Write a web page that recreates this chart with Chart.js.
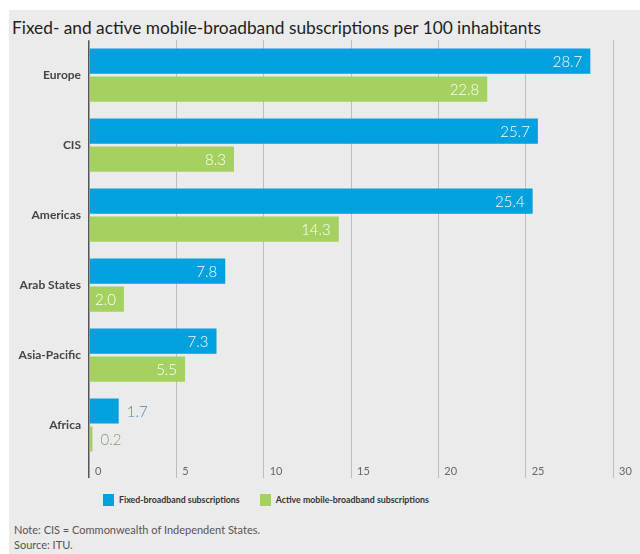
<!DOCTYPE html>
<html>
<head>
	<title>Broadband subscriptions</title>
	<style>
		body { margin: 0; background: #fff; width: 640px; height: 554px; overflow: hidden; }
		.panel { position: absolute; left: 9px; top: 10px; width: 631px; height: 544px; background: #ebebeb; font-family: Lato, sans-serif; }
		h1 { position: absolute; left: 3px; top: 7px; margin: 0; font-size: 17.3px; font-weight: normal; color: #1e1e1e; white-space: nowrap; }
		#chartBox { position: absolute; left: 0; top: 15px; width: 631px; height: 463px; }
		#legend { position: absolute; left: 94px; top: 484px; font-size: 8.8px; font-weight: bold; color: #333; white-space: nowrap; }
		#legend span.item { display: inline-block; margin-right: 20px; }
		#legend i { display: inline-block; width: 11px; height: 12px; vertical-align: -3px; margin-right: 5px; }
		.notes { position: absolute; left: 5px; top: 512px; font-size: 11px; color: #555; line-height: 15px; }
	</style>
	<script src="https://cdn.jsdelivr.net/npm/chart.js"></script>
</head>
<body>
<div class="panel">
	<h1>Fixed- and active mobile-broadband subscriptions per 100 inhabitants</h1>
	<div id="chartBox"><canvas id="bbChart" width="631" height="463"></canvas></div>
	<div id="legend"></div>
	<div class="notes">Note: CIS = Commonwealth of Independent States.<br>Source: ITU.</div>
</div>

<script>
	const regions = ['Europe', 'CIS', 'Americas', 'Arab States', 'Asia-Pacific', 'Africa'];
	const fixedBroadband = [28.7, 25.7, 25.4, 7.8, 7.3, 1.7];
	const mobileBroadband = [22.8, 8.3, 14.3, 2.0, 5.5, 0.2];
	const xTicks = [0, 5, 10, 15, 20, 25, 30];

	const BLUE = '#00a1de';
	const GREEN = '#a5d160';

	// value labels: inside the bar end when it fits, otherwise just past it
	const valueLabels = {
		id: 'valueLabels',
		afterDatasetsDraw(chart) {
			const ctx = chart.ctx;
			const outsideColors = ['#5581b8', '#7f9d72'];
			ctx.save();
			ctx.font = '300 15px Lato, sans-serif';
			ctx.textBaseline = 'middle';
			chart.data.datasets.forEach((ds, di) => {
				chart.getDatasetMeta(di).data.forEach((bar, i) => {
					const v = ds.data[i];
					const txt = v.toFixed(1);
					if (v >= 2) {
						ctx.fillStyle = '#fff';
						ctx.textAlign = 'right';
						ctx.fillText(txt, bar.x - 8, bar.y + 1);
					} else {
						ctx.fillStyle = outsideColors[di];
						ctx.textAlign = 'left';
						ctx.fillText(txt, bar.x + 8, bar.y + 1);
					}
				});
			});
			ctx.restore();
		}
	};

	const chart = new Chart(document.getElementById('bbChart'), {
		type: 'bar',
		data: {
			labels: regions,
			datasets: [
				{ label: 'Fixed-broadband subscriptions', data: fixedBroadband, backgroundColor: BLUE },
				{ label: 'Active mobile-broadband subscriptions', data: mobileBroadband, backgroundColor: GREEN }
			]
		},
		options: {
			indexAxis: 'y',
			responsive: false,
			animation: false,
			layout: { padding: { top: 9, right: 27, left: 0, bottom: 0 } },
			categoryPercentage: 0.8,
			barPercentage: 0.9,
			plugins: {
				legend: { display: false },
				tooltip: { enabled: false }
			},
			scales: {
				x: {
					min: 0,
					max: 30,
					afterBuildTicks: s => { s.ticks = xTicks.map(v => ({ value: v })); },
					afterFit: s => { s.height = 28; },
					border: { display: false },
					grid: {
						color: c => c.tick && c.tick.value === 0 ? '#555' : '#bdbdbd',
						lineWidth: c => c.tick && c.tick.value === 0 ? 1.5 : 1,
						tickLength: 18,
						drawTicks: true
					},
					ticks: {
						align: 'start',
						labelOffset: 6,
						padding: -13,
						color: '#666',
						font: { family: 'Lato', size: 11 }
					}
				},
				y: {
					afterFit: s => { s.width = 80; },
					border: { display: false },
					grid: { display: false, drawTicks: false },
					ticks: {
						padding: 8,
						color: '#444',
						font: { family: 'Lato', size: 12, weight: 'bold' }
					}
				}
			}
		},
		plugins: [valueLabels]
	});

	// legend built from the chart's datasets
	document.getElementById('legend').innerHTML = chart.data.datasets
		.map(ds => '<span class="item"><i style="background:' + ds.backgroundColor + '"></i>' + ds.label + '</span>')
		.join('');
</script>
</body>
</html>
